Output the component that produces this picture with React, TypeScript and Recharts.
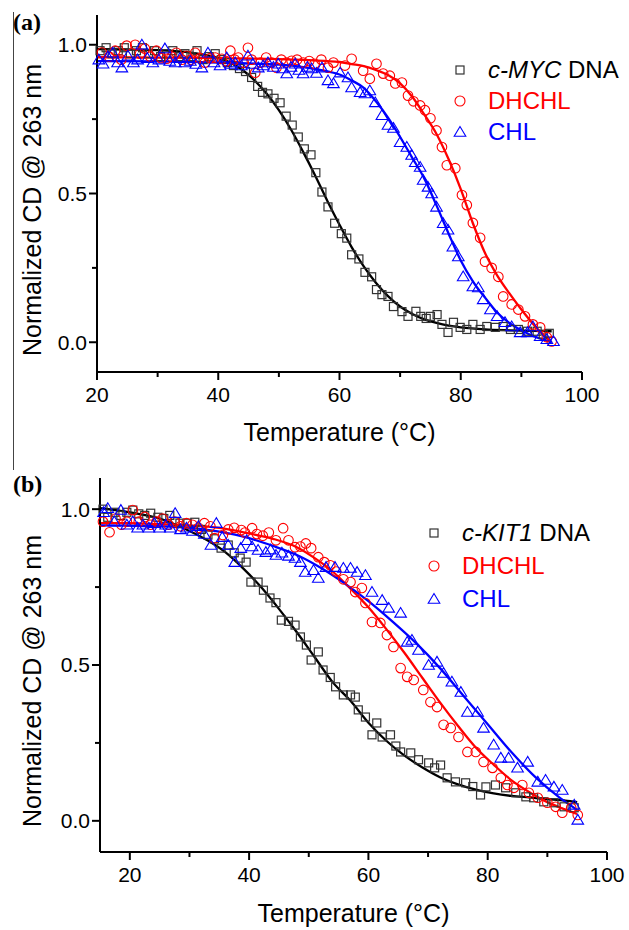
import React from 'react';
import { ComposedChart, Scatter, Line, XAxis, YAxis, Legend, Label } from 'recharts';

const FONT = '"Liberation Sans", Arial, sans-serif';

// ---- panel (a): c-MYC ----
const mycDnaPts = [
  [20.5, 0.98], [21.5, 0.99], [22.5, 0.97], [23.5, 0.98], [24.5, 0.99], [25.5, 0.97], [26.5, 0.98], [27.5, 0.99],
  [28.5, 0.97], [29.5, 0.98], [30.5, 0.96], [31.5, 0.97], [32.5, 0.98], [33.5, 0.96], [34.5, 0.97], [35.5, 0.96],
  [36.5, 0.98], [37.5, 0.95], [38.5, 0.96], [39.5, 0.97], [40.5, 0.95], [41.5, 0.94], [42.5, 0.93], [43.5, 0.92],
  [44.5, 0.91], [45.5, 0.89], [46.5, 0.86], [47.3, 0.84], [48.2, 0.835], [49.2, 0.82], [50.2, 0.805], [51.2, 0.76],
  [52.2, 0.73], [53.2, 0.69], [54.2, 0.65], [55.3, 0.63], [56.1, 0.57], [57.1, 0.505], [58.1, 0.455], [59.2, 0.4],
  [60.3, 0.365], [61.2, 0.35], [62, 0.294], [63.2, 0.28], [64.2, 0.235], [65.3, 0.22], [66.1, 0.177], [67, 0.16],
  [68, 0.154], [68.9, 0.12], [70.3, 0.103], [71.3, 0.087], [72.6, 0.104], [73.4, 0.087], [74.3, 0.08], [75, 0.087],
  [76.1, 0.093], [76.9, 0.06], [77.9, 0.033], [78.8, 0.067], [79.9, 0.05], [81, 0.043], [82, 0.06], [83.2, 0.043],
  [84.3, 0.053], [85.7, 0.05], [87, 0.053], [88.2, 0.043], [89.5, 0.043], [91, 0.037], [92.6, 0.037], [93.6, 0.027],
  [94.6, 0.03],
];
const mycDhchlPts = [
  [20.8, 0.974], [22, 0.96], [23, 0.98], [24, 0.95], [24.9, 0.997], [26.3, 1.0], [27.1, 0.97], [27.9, 0.987],
  [28.8, 0.96], [29.8, 0.98], [30.6, 0.955], [31.5, 0.953], [32.3, 0.96], [33.1, 0.973], [34, 0.95], [34.8, 0.963],
  [35.5, 0.95], [36.2, 0.973], [37, 0.955], [37.8, 0.94], [38.7, 0.955], [39.5, 0.957], [40.6, 0.953], [41.3, 0.945],
  [42, 0.98], [42.7, 0.95], [43.3, 0.957], [44.2, 0.94], [44.9, 0.99], [45.5, 0.95], [46.1, 0.906], [47, 0.94],
  [47.9, 0.957], [48.8, 0.94], [49.6, 0.923], [50.4, 0.95], [51.2, 0.94], [52.1, 0.946], [53, 0.95], [54, 0.94],
  [55, 0.945], [55.9, 0.936], [57, 0.95], [58.1, 0.923], [59, 0.94], [60.9, 0.93], [62, 0.953], [63.9, 0.913],
  [65, 0.886], [66.1, 0.936], [67.2, 0.903], [68.3, 0.896], [69.2, 0.87], [70.3, 0.873], [71.3, 0.829], [72.2, 0.81],
  [73.3, 0.796], [74.1, 0.78], [75, 0.753], [76, 0.712], [76.9, 0.656], [77.7, 0.595], [79.1, 0.585], [80.2, 0.495],
  [81, 0.461], [82, 0.401], [83.2, 0.351], [84, 0.271], [85.1, 0.25], [86.2, 0.22], [87, 0.154], [88.4, 0.127],
  [89.5, 0.11], [90.6, 0.087], [91.9, 0.06], [93.1, 0.05], [94.2, 0.017], [95, 0.003],
];
const mycChlPts = [
  [20.3, 0.95], [21, 0.936], [21.8, 0.96], [22.6, 0.973], [23.4, 0.94], [24.1, 0.923], [25.1, 0.963], [26, 0.94],
  [26.7, 0.95], [27.4, 1.0], [28.3, 0.955], [29.2, 0.94], [30.2, 0.95], [31.2, 0.987], [32, 0.945], [32.9, 0.94],
  [33.7, 0.955], [34.5, 0.94], [35.4, 0.945], [36.3, 0.935], [37.3, 0.923], [38.3, 0.973], [39.3, 0.94], [40.3, 0.93],
  [41.4, 0.957], [42.1, 0.935], [42.8, 0.94], [43.8, 0.93], [44.9, 0.963], [45.7, 0.935], [46.6, 0.923], [47.4, 0.93],
  [48.2, 0.94], [49.1, 0.925], [49.9, 0.936], [50.6, 0.92], [51.3, 0.903], [52, 0.925], [52.7, 0.936], [53.3, 0.915],
  [54, 0.903], [54.7, 0.925], [55.4, 0.92], [56.2, 0.905], [57.1, 0.923], [58.1, 0.88], [59, 0.87], [60.1, 0.906],
  [61.4, 0.89], [62, 0.856], [63.4, 0.84], [64.2, 0.836], [65, 0.846], [65.9, 0.806], [67, 0.763], [68, 0.73],
  [68.9, 0.72], [70, 0.672], [71.1, 0.656], [71.9, 0.629], [72.5, 0.605], [73.3, 0.589], [73.8, 0.545], [74.6, 0.522],
  [75.2, 0.5], [76, 0.455], [77.1, 0.4], [77.9, 0.378], [78.7, 0.321], [79.6, 0.288], [80.4, 0.221], [82, 0.187],
  [82.9, 0.184], [83.7, 0.144], [84.9, 0.11], [86, 0.087], [87.3, 0.067], [88.4, 0.053], [89.8, 0.033], [91, 0.033],
  [91.9, 0.053], [93.1, 0.02], [94.2, 0.01], [95.3, 0.003],
];
const mycDnaFit = [
  [20, 0.985], [25, 0.984], [30, 0.982], [35, 0.975], [38, 0.965], [40, 0.955], [42, 0.94], [44, 0.915], [46, 0.88],
  [48, 0.835], [50, 0.78], [52, 0.715], [54, 0.64], [56, 0.56], [58, 0.475], [60, 0.395], [62, 0.32], [64, 0.255],
  [66, 0.2], [68, 0.155], [70, 0.12], [72, 0.095], [74, 0.077], [76, 0.065], [78, 0.056], [80, 0.05], [84, 0.043],
  [88, 0.04], [92, 0.038], [95, 0.037],
];
const mycDhchlFit = [
  [20, 0.958], [30, 0.957], [40, 0.955], [50, 0.952], [55, 0.948], [60, 0.942], [62, 0.935], [64, 0.928], [66, 0.915],
  [68, 0.898], [70, 0.87], [72, 0.825], [74, 0.765], [76, 0.7], [78, 0.615], [80, 0.515], [82, 0.4], [84, 0.3],
  [86, 0.225], [88, 0.165], [90, 0.11], [92, 0.06], [94, 0.018], [95, 0.0],
];
const mycChlFit = [
  [20, 0.945], [30, 0.944], [40, 0.94], [45, 0.937], [50, 0.933], [54, 0.925], [57, 0.915], [60, 0.9], [62, 0.88],
  [64, 0.855], [66, 0.81], [68, 0.755], [70, 0.69], [72, 0.62], [74, 0.55], [76, 0.46], [78, 0.365], [80, 0.275],
  [82, 0.205], [84, 0.15], [86, 0.1], [88, 0.065], [90, 0.04], [92, 0.02], [94, 0.006], [95, 0],
];

// ---- panel (b): c-KIT1 ----
const kitDnaPts = [
  [15.5, 1.0], [16.3, 0.974], [17.5, 0.99], [18.5, 0.98], [19.5, 0.99], [20.5, 0.997], [21.5, 0.985], [22.5, 0.98],
  [23.5, 0.987], [24.7, 0.974], [25.7, 0.97], [26.7, 0.98], [27.6, 0.96], [28.4, 0.955], [29.6, 0.955], [30.9, 0.958],
  [32, 0.935], [33.1, 0.917], [34.2, 0.905], [35.3, 0.875], [36.5, 0.885], [37.5, 0.86], [38.5, 0.843], [39.5, 0.83],
  [40.3, 0.766], [41.5, 0.766], [42.4, 0.74], [43.5, 0.715], [44.5, 0.7], [45.4, 0.644], [46.6, 0.64], [47.7, 0.628],
  [48.6, 0.59], [49.6, 0.564], [50.4, 0.516], [51.6, 0.542], [52.4, 0.484], [53.6, 0.46], [54.5, 0.43], [55.8, 0.404],
  [57, 0.404], [57.8, 0.397], [58.3, 0.356], [59.5, 0.333], [60.6, 0.276], [61.4, 0.314], [62.3, 0.269], [63.7, 0.276],
  [64.6, 0.24], [65.4, 0.221], [67.1, 0.218], [68.4, 0.196], [70.1, 0.186], [71.1, 0.17], [72.1, 0.179], [73.2, 0.138],
  [74.6, 0.125], [76.3, 0.122], [77.5, 0.11], [78.8, 0.083], [79.7, 0.109], [81.3, 0.115], [83, 0.106], [84.7, 0.09],
  [86.4, 0.077], [87.7, 0.074], [89.4, 0.061], [91.1, 0.058], [92.8, 0.045], [94.5, 0.042],
];
const kitDhchlPts = [
  [15.5, 0.96], [16.6, 0.926], [17.6, 0.97], [18.6, 0.95], [19.5, 0.96], [20.5, 0.997], [21.5, 0.96], [22.5, 0.975],
  [23.5, 0.95], [24.5, 0.96], [25.5, 0.97], [26.5, 0.95], [27.5, 0.96], [28.5, 0.945], [29.5, 0.955], [30.5, 0.95],
  [31.5, 0.94], [32.5, 0.955], [33.5, 0.945], [34.2, 0.907], [35.6, 0.917], [36.5, 0.935], [37.5, 0.94], [38.7, 0.933],
  [39.3, 0.925], [40.5, 0.939], [41.3, 0.92], [42.3, 0.915], [43.3, 0.925], [44.5, 0.9], [45.7, 0.939], [46.6, 0.9],
  [47.7, 0.878], [48.6, 0.88], [49.5, 0.89], [50.4, 0.875], [51.6, 0.846], [52.6, 0.83], [53.6, 0.82], [54.6, 0.8],
  [55.8, 0.775], [57, 0.766], [57.8, 0.734], [58.9, 0.747], [59.5, 0.699], [60.6, 0.638], [62, 0.635], [63.1, 0.596],
  [64.2, 0.558], [65.4, 0.49], [66.5, 0.462], [67.6, 0.452], [69.2, 0.42], [70.4, 0.381], [71.5, 0.365], [72.6, 0.308],
  [73.8, 0.298], [75.1, 0.269], [76.6, 0.221], [78, 0.221], [79.3, 0.189], [80.8, 0.17], [82.2, 0.138], [83.3, 0.115],
  [84.4, 0.106], [85.8, 0.115], [86.9, 0.09], [88.4, 0.074], [90, 0.058], [91.4, 0.045], [92.5, 0.026], [94, 0.042],
  [95.1, 0.019],
];
const kitChlPts = [
  [15.6, 0.99], [16.3, 1.003], [17.4, 0.96], [18.5, 0.997], [19.5, 0.95], [20.5, 0.96], [21.3, 0.94], [22.2, 0.95],
  [23.2, 0.94], [24.1, 0.955], [25, 0.94], [26, 0.95], [26.8, 0.94], [27.6, 0.987], [28.5, 0.935], [29.5, 0.94],
  [30.5, 0.93], [31.5, 0.945], [32.5, 0.92], [33.6, 0.885], [34.5, 0.955], [35.5, 0.91], [36.5, 0.885], [37.6, 0.83],
  [38.6, 0.875], [39.6, 0.9], [40.5, 0.88], [41.5, 0.869], [42.8, 0.862], [43.6, 0.87], [44.5, 0.853], [45.5, 0.86],
  [46.6, 0.85], [47.7, 0.843], [48.6, 0.83], [49.4, 0.798], [50.8, 0.804], [51.6, 0.779], [52.9, 0.814], [54.4, 0.814],
  [55.8, 0.811], [57, 0.811], [58.1, 0.798], [59.5, 0.788], [60.6, 0.734], [62.3, 0.708], [63.4, 0.683], [65.4, 0.667],
  [66.5, 0.574], [67.3, 0.58], [68.4, 0.548], [70.1, 0.5], [71.5, 0.51], [72.6, 0.474], [74, 0.446], [75.5, 0.413],
  [76.6, 0.349], [78.3, 0.349], [79.3, 0.298], [81, 0.244], [82.2, 0.202], [83.5, 0.202], [85, 0.17], [86.7, 0.189],
  [88.4, 0.125], [89.7, 0.131], [91.1, 0.109], [92.5, 0.099], [94.5, 0.051], [95.1, 0.003],
];
const kitDnaFit = [
  [15, 1.003], [20, 0.99], [25, 0.97], [30, 0.93], [33, 0.9], [36, 0.862], [39, 0.81], [42, 0.75], [45, 0.68],
  [48, 0.605], [51, 0.525], [54, 0.445], [57, 0.385], [60, 0.315], [63, 0.257], [66, 0.21], [69, 0.172], [72, 0.14],
  [75, 0.117], [78, 0.1], [81, 0.088], [84, 0.08], [87, 0.075], [90, 0.07], [93, 0.065], [95, 0.06],
];
const kitDhchlFit = [
  [15, 0.955], [20, 0.955], [25, 0.952], [30, 0.948], [35, 0.94], [40, 0.922], [44, 0.905], [48, 0.878], [51, 0.843],
  [54, 0.8], [57, 0.745], [60, 0.685], [63, 0.615], [66, 0.54], [69, 0.46], [72, 0.38], [75, 0.305], [78, 0.235],
  [81, 0.18], [84, 0.13], [87, 0.092], [90, 0.06], [93, 0.036], [95, 0.022],
];
const kitChlFit = [
  [15, 0.948], [20, 0.947], [25, 0.945], [30, 0.94], [35, 0.928], [40, 0.907], [44, 0.882], [48, 0.853], [52, 0.812],
  [56, 0.762], [60, 0.705], [64, 0.64], [68, 0.57], [72, 0.49], [76, 0.4], [80, 0.31], [84, 0.22], [88, 0.14],
  [92, 0.075], [95, 0.035],
];

const xTicks = [20, 30, 40, 50, 60, 70, 80, 90, 100];
const yTicks = [0, 0.25, 0.5, 0.75, 1.0];

const toPts = (rows: number[][]) => rows.map(([t, v]) => ({ t, v }));

const SquareDot = (p: any) => (
  <rect x={p.cx - 4} y={p.cy - 4} width={8} height={8} fill="none" stroke="#333" strokeWidth={1.2} />
);
const CircleDot = (p: any) => <circle cx={p.cx} cy={p.cy} r={4.8} fill="none" stroke="#ff0000" strokeWidth={1.1} />;
const TriDot = (p: any) => (
  <polygon
    points={`${p.cx},${p.cy - 5.5} ${p.cx - 5.8},${p.cy + 4.2} ${p.cx + 5.8},${p.cy + 4.2}`}
    fill="none"
    stroke="#0000ff"
    strokeWidth={1.1}
  />
);

function XTick({ x, y, payload }: any) {
  const major = payload.value % 20 === 0;
  return (
    <g>
      <line x1={x} y1={y} x2={x} y2={y + (major ? 8 : 5)} stroke="#000" strokeWidth={2} />
      {major && (
        <text x={x} y={y + 15} dy="0.71em" textAnchor="middle" fontSize={21} fontFamily={FONT} fill="#000">
          {payload.value}
        </text>
      )}
    </g>
  );
}

function YTick({ x, y, payload }: any) {
  const v = payload.value;
  const major = Math.abs(v * 2 - Math.round(v * 2)) < 1e-6;
  return (
    <g>
      <line x1={x - (major ? 8 : 5)} y1={y} x2={x} y2={y} stroke="#000" strokeWidth={2} />
      {major && (
        <text x={x - 10} y={y} dy="0.35em" textAnchor="end" fontSize={21} fontFamily={FONT} fill="#000">
          {v.toFixed(1)}
        </text>
      )}
    </g>
  );
}

function LegendBox({ dna, rowH }: { dna: string; rowH: number }) {
  const rows = [
    { mark: <rect x={4} y={4} width={8} height={8} fill="none" stroke="#333" strokeWidth={1.2} />, color: '#000', label: <><i>{dna}</i> DNA</> },
    { mark: <circle cx={8} cy={8} r={5} fill="none" stroke="#ff0000" strokeWidth={1.1} />, color: '#ff0000', label: 'DHCHL' },
    { mark: <polygon points="8,2.5 2.2,12.2 13.8,12.2" fill="none" stroke="#0000ff" strokeWidth={1.1} />, color: '#0000ff', label: 'CHL' },
  ];
  return (
    <div style={{ fontFamily: FONT, fontSize: 24 }}>
      {rows.map((r, i) => (
        <div key={i} style={{ display: 'flex', alignItems: 'center', height: rowH, color: r.color }}>
          <svg width={16} height={16} style={{ marginRight: 20 }}>{r.mark}</svg>
          <span style={{ whiteSpace: 'nowrap' }}>{r.label}</span>
        </div>
      ))}
    </div>
  );
}

type PanelProps = {
  xMin: number;
  margin: { top: number; right: number; bottom: number; left: number };
  xAxisHeight: number;
  dna: string;
  pts: number[][][];
  fits: number[][][];
  legendPos: { left: number; top: number };
  rowH: number;
  yTitle: { x: number; y: number };
  xTitleY: number;
};

function Panel(p: PanelProps) {
  const shapes = [SquareDot, CircleDot, TriDot];
  const colors = ['#000', '#ff0000', '#0000ff'];
  return (
    <ComposedChart width={629} height={465} margin={p.margin}>
      <XAxis
        type="number"
        dataKey="t"
        domain={[p.xMin, 100]}
        ticks={xTicks}
        interval={0}
        height={p.xAxisHeight}
        tickSize={0}
        tickMargin={0}
        tickLine={false}
        tick={<XTick />}
        axisLine={{ stroke: '#000', strokeWidth: 2 }}
      >
        <Label
          content={({ viewBox }: any) => (
            <text
              x={viewBox.x + viewBox.width / 2}
              y={p.xTitleY}
              textAnchor="middle"
              dominantBaseline="central"
              fontSize={25}
              fontFamily={FONT}
              fill="#000"
            >
              Temperature (°C)
            </text>
          )}
        />
      </XAxis>
      <YAxis
        type="number"
        dataKey="v"
        domain={[-0.1, 1.1]}
        ticks={yTicks}
        interval={0}
        width={60}
        tickSize={0}
        tickMargin={0}
        tickLine={false}
        tick={<YTick />}
        axisLine={{ stroke: '#000', strokeWidth: 2 }}
      >
        <Label
          content={() => (
            <text
              x={p.yTitle.x}
              y={p.yTitle.y}
              transform={`rotate(-90 ${p.yTitle.x} ${p.yTitle.y})`}
              textAnchor="middle"
              dominantBaseline="central"
              fontSize={25}
              fontFamily={FONT}
              fill="#000"
            >
              Normalized CD @ 263 nm
            </text>
          )}
        />
      </YAxis>
      {p.pts.map((d, i) => (
        <Scatter key={`s${i}`} data={toPts(d)} shape={shapes[i]} isAnimationActive={false} />
      ))}
      {p.fits.map((d, i) => (
        <Line
          key={`l${i}`}
          data={toPts(d)}
          dataKey="v"
          type="monotone"
          stroke={colors[i]}
          strokeWidth={2.3}
          dot={false}
          activeDot={false}
          isAnimationActive={false}
        />
      ))}
      <Legend
        layout="vertical"
        align="center"
        verticalAlign="middle"
        wrapperStyle={{ left: p.legendPos.left, top: p.legendPos.top, width: 'auto' }}
        content={() => <LegendBox dna={p.dna} rowH={p.rowH} />}
      />
    </ComposedChart>
  );
}

export default function App() {
  const tag: React.CSSProperties = {
    position: 'absolute',
    left: 13,
    fontFamily: '"Liberation Serif", "Times New Roman", serif',
    fontWeight: 'bold',
    fontSize: 24,
    lineHeight: '24px',
  };
  return (
    <div style={{ position: 'absolute', left: 0, top: 0, width: 629, height: 930, background: '#fff' }}>
      <div style={{ position: 'absolute', left: 0, top: 0 }}>
        <Panel
          xMin={20}
          margin={{ top: 15, right: 47, bottom: 0, left: 37 }}
          xAxisHeight={93}
          dna="c-MYC"
          pts={[mycDnaPts, mycDhchlPts, mycChlPts]}
          fits={[mycDnaFit, mycDhchlFit, mycChlFit]}
          legendPos={{ left: 452, top: 54 }}
          rowH={31}
          yTitle={{ x: 32, y: 210 }}
          xTitleY={432}
        />
      </div>
      <div style={{ position: 'absolute', left: 0, top: 465 }}>
        <Panel
          xMin={15}
          margin={{ top: 13, right: 22, bottom: 0, left: 40 }}
          xAxisHeight={78}
          dna="c-KIT1"
          pts={[kitDnaPts, kitDhchlPts, kitChlPts]}
          fits={[kitDnaFit, kitDhchlFit, kitChlFit]}
          legendPos={{ left: 426, top: 51 }}
          rowH={33}
          yTitle={{ x: 32, y: 216 }}
          xTitleY={448}
        />
      </div>
      <div style={{ position: 'absolute', left: 13, top: 12, width: 1, height: 458, background: '#444' }} />
      <div style={{ ...tag, top: 10 }}>(a)</div>
      <div style={{ ...tag, top: 472 }}>(b)</div>
    </div>
  );
}
